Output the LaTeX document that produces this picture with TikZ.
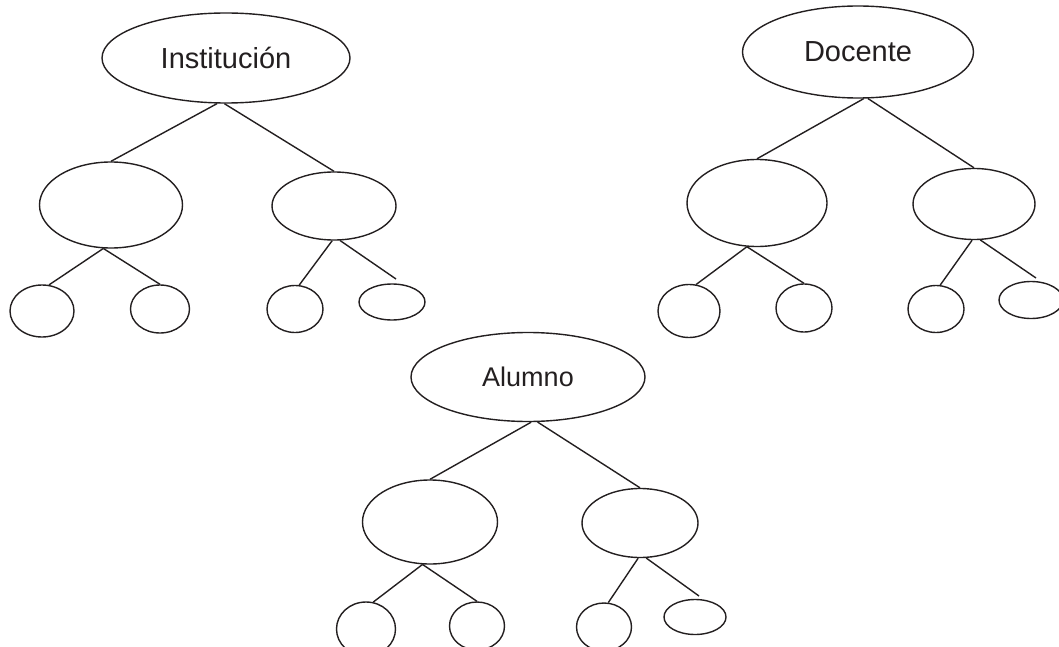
\documentclass[tikz,border=0pt]{standalone}
\usepackage{fontspec}
\setmainfont{Liberation Sans}
\usepackage{tikz}
\usetikzlibrary{shapes.geometric}
\definecolor{ink}{HTML}{231F20}
\tikzset{
  lab/.style={text=ink, font=\fontsize{29}{34}\selectfont},
  oval/.style 2 args={ellipse, draw=ink, line width=1.4pt, inner sep=0pt, minimum width=#1, minimum height=#2},
  branch/.style={draw=ink, line width=1.4pt}
}

\begin{document}
\begin{tikzpicture}[x=1pt,y=-1pt]
\clip (0,0) rectangle (1059,647);
% Institucion tree
\node[oval={248pt}{90pt}, lab] (inst) at (226,58) {Institución};
\node[oval={143pt}{86pt}] (inst-l) at (111,205) {};
\node[oval={124pt}{68pt}] (inst-r) at (334,206) {};
\node[oval={64pt}{52pt}] (inst-ll) at (42,311) {};
\node[oval={59pt}{48pt}] (inst-lr) at (160,309) {};
\node[oval={56pt}{47pt}] (inst-rl) at (295,309) {};
\node[oval={66pt}{36pt}] (inst-rr) at (392,302) {};
\coordinate (inst-rr-end) at (396,279);
\draw[branch] (inst.259) -- (inst-l.north);
\draw[branch] (inst.268) -- (inst-r.north);
\draw[branch] (inst-l.260) -- (inst-ll.75);
\draw[branch] (inst-l.260) -- (inst-lr.north);
\draw[branch] (inst-r.267) -- (inst-rl.80);
\draw[branch] (inst-r.280) -- (inst-rr-end);

% Docente tree
\node[oval={231pt}{92pt}, lab] (doc) at (858,52) {Docente};
\node[oval={140pt}{87pt}] (doc-l) at (757,203) {};
\node[oval={122pt}{71pt}] (doc-r) at (974,204) {};
\node[oval={62pt}{53pt}] (doc-ll) at (689,311) {};
\node[oval={56pt}{48pt}] (doc-lr) at (804,308) {};
\node[oval={56pt}{47pt}] (doc-rl) at (936,309) {};
\node[oval={64pt}{37pt}] (doc-rr) at (1031,300) {};
\coordinate (doc-rr-end) at (1036,278);
\draw[branch] (doc.277) -- (doc-l.north);
\draw[branch] (doc.282) -- (doc-r.north);
\draw[branch] (doc-l.257) -- (doc-ll.75);
\draw[branch] (doc-l.257) -- (doc-lr.north);
\draw[branch] (doc-r.267) -- (doc-rl.80);
\draw[branch] (doc-r.280) -- (doc-rr-end);

% Alumno tree
\node[oval={234pt}{89pt}, lab, font=\fontsize{27}{32}\selectfont] (alum) at (528,377) {Alumno};
\node[oval={135pt}{84pt}] (alum-l) at (430,522) {};
\node[oval={116pt}{69pt}] (alum-r) at (640,523) {};
\node[oval={59pt}{54pt}] (alum-ll) at (366,629) {};
\node[oval={55pt}{48pt}] (alum-lr) at (477,626) {};
\node[oval={55pt}{48pt}] (alum-rl) at (604,627) {};
\node[oval={62pt}{35pt}] (alum-rr) at (695,617) {};
\coordinate (alum-rr-end) at (699,596);
\draw[branch] (alum.274) -- (alum-l.north);
\draw[branch] (alum.282) -- (alum-r.north);
\draw[branch] (alum-l.260) -- (alum-ll.75);
\draw[branch] (alum-l.260) -- (alum-lr.north);
\draw[branch] (alum-r.267) -- (alum-rl.80);
\draw[branch] (alum-r.280) -- (alum-rr-end);
\end{tikzpicture}
\end{document}
